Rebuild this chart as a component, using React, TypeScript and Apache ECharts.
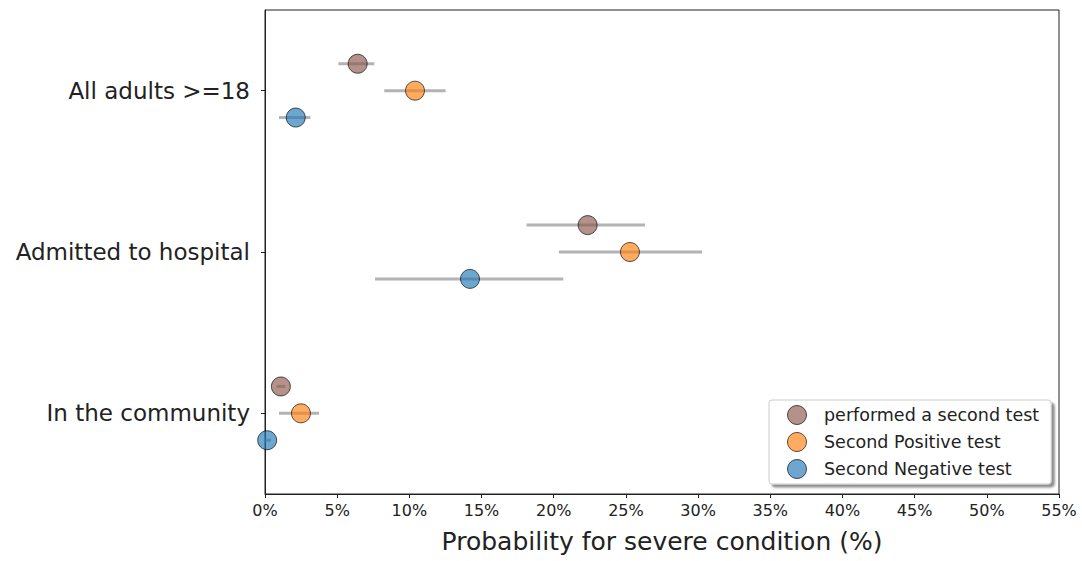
import React, { useEffect, useRef } from "react";
import * as echarts from "echarts";

// categories from bottom to top
const categories = ["In the community", "Admitted to hospital", "All adults >=18"];
const seriesNames = ["performed a second test", "Second Positive test", "Second Negative test"];

// values in % (index matches categories)
const performedValue = [1.1, 22.35, 6.42];
const performedLow = [0.8, 18.12, 5.08];
const performedHigh = [1.4, 26.32, 7.57];

const positiveValue = [2.49, 25.28, 10.39];
const positiveLow = [0.97, 20.36, 8.26];
const positiveHigh = [3.74, 30.28, 12.51];

const negativeValue = [0.15, 14.2, 2.13];
const negativeLow = [0.0, 7.62, 0.97];
const negativeHigh = [0.4, 20.66, 3.14];

const xTicksMax = 55;
const xTickStep = 5;

const colors = ["#8c564b", "#ff7f0e", "#1f77b4"];
const offsets = [1 / 6, 0, -1 / 6];
const FONT = "DejaVu Sans";

export default function App() {
  const ref = useRef<HTMLDivElement>(null);
  useEffect(() => {
    if (!ref.current) return;
    const chart = echarts.init(ref.current, null, { renderer: "svg" });
    const groups = [
      { v: performedValue, lo: performedLow, hi: performedHigh },
      { v: positiveValue, lo: positiveLow, hi: positiveHigh },
      { v: negativeValue, lo: negativeLow, hi: negativeHigh },
    ];
    const series: any[] = [];
    groups.forEach((g, gi) => {
      series.push({
        type: "custom",
        name: seriesNames[gi] + " err",
        xAxisIndex: 0,
        yAxisIndex: 1,
        z: 1,
        silent: true,
        data: categories.map((_, ci) => [g.lo[ci], g.hi[ci], ci + offsets[gi]]),
        renderItem: (params: any, api: any) => {
          const p1 = api.coord([api.value(0), api.value(2)]);
          const p2 = api.coord([api.value(1), api.value(2)]);
          return {
            type: "line",
            shape: { x1: p1[0], y1: p1[1], x2: p2[0], y2: p2[1] },
            style: { stroke: "rgba(128,128,128,0.6)", lineWidth: 3 },
          };
        },
        encode: { x: [0, 1], y: 2 },
      });
    });
    groups.forEach((g, gi) => {
      series.push({
        type: "scatter",
        name: seriesNames[gi],
        xAxisIndex: 0,
        yAxisIndex: 1,
        z: 3,
        symbol: "circle",
        symbolSize: 19,
        itemStyle: {
          color: colors[gi],
          opacity: 0.65,
          borderColor: "#000",
          borderWidth: 1,
        },
        data: categories.map((_, ci) => [g.v[ci], ci + offsets[gi]]),
      });
    });

    chart.setOption({
      animation: false,
      textStyle: { fontFamily: FONT },
      grid: {
        left: 265,
        right: 23,
        top: 10,
        bottom: 67,
        show: true,
        borderColor: "#222",
        borderWidth: 1,
        containLabel: false,
      },
      legend: {
        orient: "vertical",
        left: 769,
        top: 400,
        backgroundColor: "#fff",
        borderColor: "#ccc",
        borderWidth: 1,
        borderRadius: 3,
        padding: [5, 12, 5, 18],
        shadowColor: "rgba(0,0,0,0.45)",
        shadowBlur: 2,
        shadowOffsetX: 3,
        shadowOffsetY: 3,
        itemWidth: 44,
        itemHeight: 19,
        itemGap: 7,
        icon: "circle",
        textStyle: { fontSize: 17.5, color: "#222", fontFamily: FONT },
        data: seriesNames.map((n, i) => ({
          name: n,
          itemStyle: { color: colors[i], opacity: 0.65, borderColor: "#000", borderWidth: 1 },
        })),
      },
      xAxis: {
        type: "value",
        min: 0,
        max: xTicksMax,
        interval: xTickStep,
        name: "Probability for severe condition (%)",
        nameLocation: "middle",
        nameGap: 35,
        nameTextStyle: { fontSize: 25, color: "#222", fontFamily: FONT },
        axisLine: { show: true, onZero: false, lineStyle: { color: "#222", width: 1 } },
        axisTick: { show: true, length: 4, lineStyle: { color: "#222" } },
        axisLabel: {
          formatter: "{value}%",
          fontSize: 16,
          color: "#222",
          margin: 8,
          fontFamily: FONT,
        },
        splitLine: { show: false },
      },
      yAxis: [
        {
          type: "category",
          data: categories,
          boundaryGap: true,
          axisLine: { show: true, onZero: false, lineStyle: { color: "#222" } },
          axisTick: { show: true, alignWithLabel: true, length: 4, lineStyle: { color: "#222" } },
          axisLabel: { fontSize: 23, color: "#222", margin: 15, fontFamily: FONT },
          splitLine: { show: false },
        },
        {
          type: "value",
          min: -0.5,
          max: 2.5,
          show: false,
          splitLine: { show: false },
        },
      ],
      series,
    });
    return () => chart.dispose();
  }, []);
  return (
    <div
      ref={ref}
      style={{ position: "absolute", left: 0, top: 0, width: 1082, height: 561, background: "#fff" }}
    />
  );
}
